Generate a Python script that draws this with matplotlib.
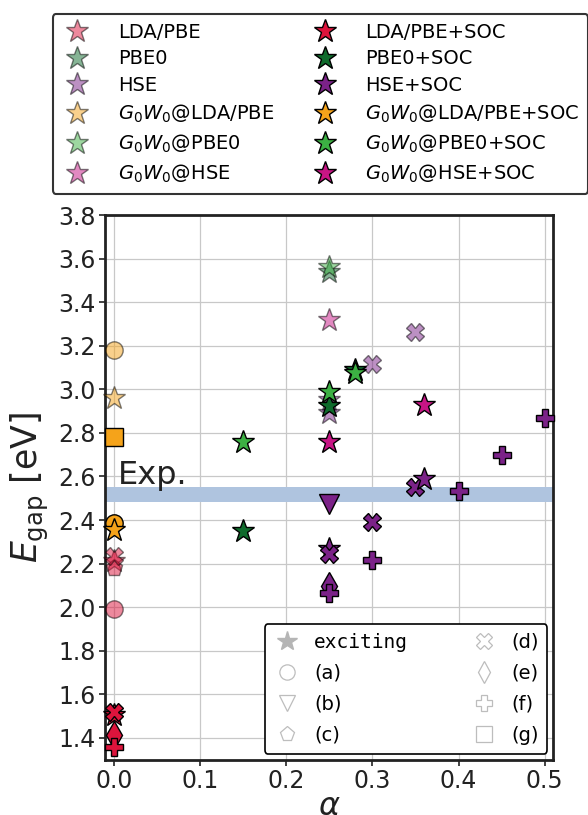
import matplotlib
matplotlib.use("Agg")
import matplotlib.pyplot as plt
from matplotlib.lines import Line2D

# ---------------- data ----------------
# source codes: 'x' = exciting, a..g = literature
marker_of = {'x': '*', 'a': 'o', 'b': 'v', 'c': 'p', 'd': 'X', 'e': 'd', 'f': 'P', 'g': 's'}

lda_alpha = [0.0, 0.0, 0.0, 0.0]
lda_gap = [2.21, 1.99, 2.18, 2.235]
lda_src = ['x', 'a', 'c', 'd']

pbe0_alpha = [0.25]
pbe0_gap = [3.54]
pbe0_src = ['x']

hse_alpha = [0.25, 0.25, 0.30, 0.35]
hse_gap = [2.95, 2.89, 3.115, 3.265]
hse_src = ['x', 'x', 'd', 'd']

gw_lda_alpha = [0.0, 0.0]
gw_lda_gap = [2.96, 3.18]
gw_lda_src = ['x', 'a']

gw_pbe0_alpha = [0.25]
gw_pbe0_gap = [3.56]
gw_pbe0_src = ['x']

gw_hse_alpha = [0.25]
gw_hse_gap = [3.32]
gw_hse_src = ['x']

lda_soc_alpha = [0.0, 0.0, 0.0, 0.0]
lda_soc_gap = [1.505, 1.52, 1.415, 1.36]
lda_soc_src = ['x', 'd', 'e', 'f']

pbe0_soc_alpha = [0.15, 0.25, 0.28]
pbe0_soc_gap = [2.35, 2.925, 3.09]
pbe0_soc_src = ['x', 'x', 'x']

hse_soc_alpha = [0.25, 0.25, 0.25, 0.25, 0.25, 0.30, 0.30, 0.35, 0.36, 0.40, 0.45, 0.50]
hse_soc_gap = [2.265, 2.245, 2.475, 2.095, 2.065, 2.39, 2.215, 2.55, 2.59, 2.535, 2.70, 2.87]
hse_soc_src = ['x', 'd', 'b', 'e', 'f', 'd', 'f', 'd', 'x', 'f', 'f', 'f']

gw_lda_soc_alpha = [0.0, 0.0, 0.0]
gw_lda_soc_gap = [2.385, 2.355, 2.78]
gw_lda_soc_src = ['a', 'x', 'g']

gw_pbe0_soc_alpha = [0.15, 0.25, 0.28]
gw_pbe0_soc_gap = [2.76, 2.99, 3.075]
gw_pbe0_soc_src = ['x', 'x', 'x']

gw_hse_soc_alpha = [0.25, 0.36]
gw_hse_soc_gap = [2.76, 2.93]
gw_hse_soc_src = ['x', 'x']

exp_band = (2.485, 2.55)

labels_plain = ['LDA/PBE', 'PBE0', 'HSE', r'$G_0W_0$@LDA/PBE', r'$G_0W_0$@PBE0', r'$G_0W_0$@HSE']
labels_soc = ['LDA/PBE+SOC', 'PBE0+SOC', 'HSE+SOC', r'$G_0W_0$@LDA/PBE+SOC',
              r'$G_0W_0$@PBE0+SOC', r'$G_0W_0$@HSE+SOC']
colors = ['#dc143c', '#0f6b2c', '#7b2288', '#f5a31a', '#3cb043', '#c71585']

src_labels = ['exciting', '(a)', '(b)', '(c)', '(d)', '(e)', '(f)', '(g)']
src_codes = ['x', 'a', 'b', 'c', 'd', 'e', 'f', 'g']

plain_sets = [(lda_alpha, lda_gap, lda_src), (pbe0_alpha, pbe0_gap, pbe0_src),
              (hse_alpha, hse_gap, hse_src), (gw_lda_alpha, gw_lda_gap, gw_lda_src),
              (gw_pbe0_alpha, gw_pbe0_gap, gw_pbe0_src), (gw_hse_alpha, gw_hse_gap, gw_hse_src)]
soc_sets = [(lda_soc_alpha, lda_soc_gap, lda_soc_src), (pbe0_soc_alpha, pbe0_soc_gap, pbe0_soc_src),
            (hse_soc_alpha, hse_soc_gap, hse_soc_src), (gw_lda_soc_alpha, gw_lda_soc_gap, gw_lda_soc_src),
            (gw_pbe0_soc_alpha, gw_pbe0_soc_gap, gw_pbe0_soc_src), (gw_hse_soc_alpha, gw_hse_soc_gap, gw_hse_soc_src)]

# ---------------- figure ----------------
fig = plt.figure(figsize=(5.88, 8.15), dpi=100)
ax = fig.add_axes([0.179, 0.068, 0.762, 0.668])

sizes = {'*': 17, 'o': 12.5, 'v': 14, 'p': 12.5, 'X': 12.5, 'd': 14, 'P': 12.5, 's': 12.5}

def draw(sets, alpha, z):
    for (xs, ys, ss), c in zip(sets, colors):
        for x, y, s in zip(xs, ys, ss):
            m = marker_of[s]
            ax.plot([x], [y], marker=m, linestyle='none', markersize=sizes[m],
                    markerfacecolor=c, markeredgecolor='black', markeredgewidth=1.0,
                    alpha=alpha, zorder=z, clip_on=False)

draw(plain_sets, 0.5, 3)
draw(soc_sets, 1.0, 4)

ax.axhspan(exp_band[0], exp_band[1], color='#afc4df', zorder=1, lw=0)
ax.text(0.005, 2.565, 'Exp.', fontsize=23, color='#222222', zorder=2)

ax.set_xlim(-0.01, 0.51)
ax.set_ylim(1.3, 3.8)
ax.set_xticks([0.0, 0.1, 0.2, 0.3, 0.4, 0.5])
ax.set_yticks([1.4, 1.6, 1.8, 2.0, 2.2, 2.4, 2.6, 2.8, 3.0, 3.2, 3.4, 3.6, 3.8])
ax.tick_params(labelsize=17, width=1.2, length=4, colors='#222222', pad=3)
ax.grid(True, color='#c8c8c8', linewidth=0.9, zorder=0)
ax.set_axisbelow(True)
for sp in ax.spines.values():
    sp.set_linewidth(2.0)
    sp.set_color('#222222')
ax.set_xlabel(r'$\alpha$', fontsize=23, labelpad=-2, color='#222222')
ax.set_ylabel(r'$E_{\rm gap}$ [eV]', fontsize=25, labelpad=5, color='#222222')

# top legend
handles = []
for c in colors:
    handles.append(Line2D([], [], marker='*', linestyle='none', markersize=17,
                          markerfacecolor=c, markeredgecolor='black', alpha=0.5))
for c in colors:
    handles.append(Line2D([], [], marker='*', linestyle='none', markersize=17,
                          markerfacecolor=c, markeredgecolor='black'))
leg = fig.legend(handles, labels_plain + labels_soc, ncol=2, loc='upper center',
                 bbox_to_anchor=(0.545, 0.995), fontsize=14, frameon=True,
                 edgecolor='black', fancybox=True, handletextpad=1.3,
                 columnspacing=1.8, labelspacing=0.4, borderpad=0.45, handlelength=1.6)
leg.get_frame().set_linewidth(1.5)

# source legend
src_handles = []
for code in src_codes:
    m = marker_of[code]
    if code == 'x':
        src_handles.append(Line2D([], [], marker=m, linestyle='none', markersize=15,
                                  markerfacecolor='#b5b5b5', markeredgecolor='#b5b5b5'))
    else:
        src_handles.append(Line2D([], [], marker=m, linestyle='none', markersize=11,
                                  markerfacecolor='white', markeredgecolor='#bdbdbd',
                                  markeredgewidth=0.9))
leg2 = ax.legend(src_handles, src_labels, ncol=2, loc='lower right', fontsize=14,
                 frameon=True, edgecolor='black', fancybox=True, framealpha=1,
                 handletextpad=0.7, columnspacing=3.2, labelspacing=0.62,
                 borderaxespad=0.3, borderpad=0.45, handlelength=1.4)
leg2.get_frame().set_linewidth(1.2)
leg2.set_zorder(10)
leg2.get_texts()[0].set_family('DejaVu Sans Mono')

fig.savefig('out.png', dpi=100)
